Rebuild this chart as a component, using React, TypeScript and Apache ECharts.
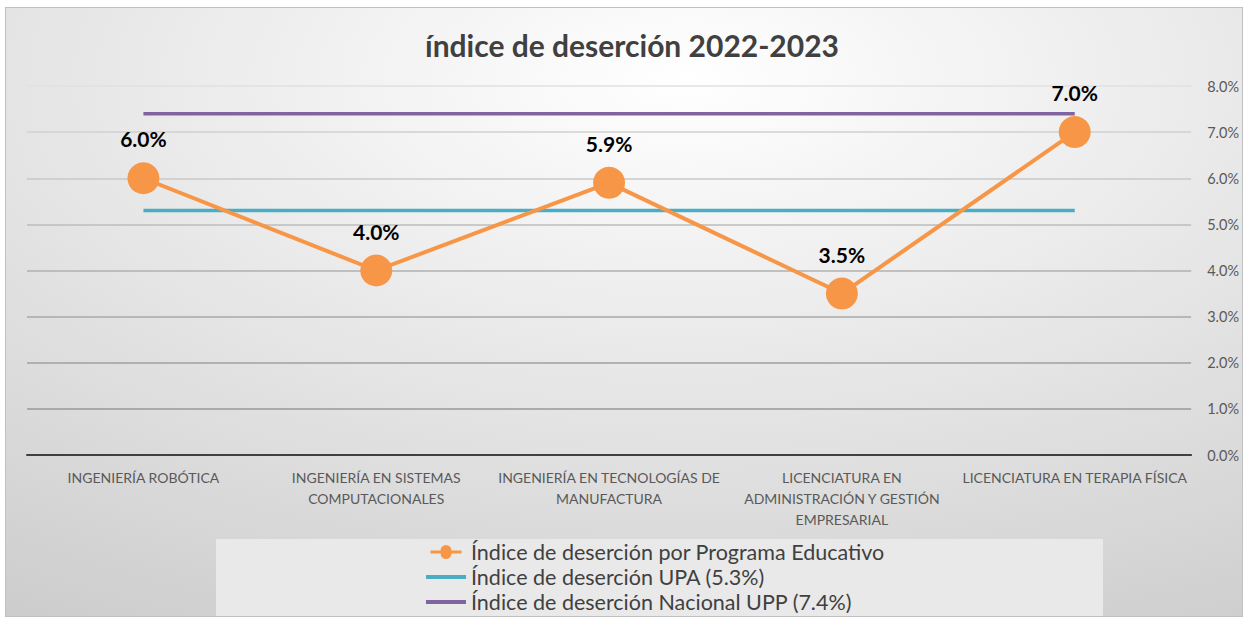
import React, { useEffect, useRef } from "react";
import * as echarts from "echarts";

const categories = [
  "INGENIERÍA ROBÓTICA",
  "INGENIERÍA EN SISTEMAS\nCOMPUTACIONALES",
  "INGENIERÍA EN TECNOLOGÍAS DE\nMANUFACTURA",
  "LICENCIATURA EN\nADMINISTRACIÓN Y GESTIÓN\nEMPRESARIAL",
  "LICENCIATURA EN TERAPIA FÍSICA",
];
const programValues = [6.0, 4.0, 5.9, 3.5, 7.0];
const upaValues = [5.3, 5.3, 5.3, 5.3, 5.3];
const nacionalValues = [7.4, 7.4, 7.4, 7.4, 7.4];
const seriesNames = [
  "Índice de deserción por Programa Educativo",
  "Índice de deserción UPA (5.3%)",
  "Índice de deserción Nacional UPP (7.4%)",
];
const titleText = "índice de deserción 2022-2023";

const FONT = "Lato, 'Open Sans', sans-serif";
const LINE_ICON = "path://M0,5 L40,5 L40,9 L0,9 Z";
const MARKER_ICON =
  "path://M0,5 L13,5 A7,7 0 0,1 27,5 L40,5 L40,9 L27,9 A7,7 0 0,1 13,9 L0,9 Z";

export default function App() {
  const ref = useRef<HTMLDivElement>(null);
  useEffect(() => {
    if (!ref.current) return;
    const chart = echarts.init(ref.current, undefined, { renderer: "svg" });
    chart.setOption({
      animation: false,
      backgroundColor: new echarts.graphic.RadialGradient(0.55, 0.12, 1.25, [
        { offset: 0, color: "#ffffff" },
        { offset: 1, color: "#c2c2c2" },
      ]),
      title: {
        text: titleText,
        left: 621,
        textAlign: "center",
        top: 17,
        textStyle: { fontFamily: FONT, fontSize: 30, fontWeight: "bold", color: "#404040" },
      },
      graphic: [
        {
          type: "rect",
          shape: { x: 210, y: 531, width: 887, height: 78 },
          style: { fill: "#e9e9e9" },
          z: 0,
        },
      ],
      legend: {
        orient: "vertical",
        left: 420,
        top: 533,
        padding: 0,
        itemWidth: 40,
        itemHeight: 14,
        itemGap: 3,
        data: [
          { name: seriesNames[0], icon: MARKER_ICON },
          { name: seriesNames[1], icon: LINE_ICON },
          { name: seriesNames[2], icon: LINE_ICON },
        ],
        textStyle: { fontFamily: FONT, fontSize: 21.5, lineHeight: 22, color: "#404040" },
        z: 5,
      },
      grid: { left: 21, right: 50, top: 78, bottom: 161 },
      xAxis: {
        type: "category",
        data: categories,
        boundaryGap: true,
        axisTick: { show: false },
        axisLine: { lineStyle: { color: "#404040", width: 2 } },
        axisLabel: {
          interval: 0,
          margin: 12,
          color: "#595959",
          fontFamily: FONT,
          fontSize: 14,
          lineHeight: 21,
        },
      },
      yAxis: {
        type: "value",
        position: "right",
        min: 0,
        max: 8,
        interval: 1,
        axisLine: { show: false },
        axisTick: { show: false },
        axisLabel: {
          margin: 16,
          color: "#595959",
          fontFamily: FONT,
          fontSize: 14.5,
          formatter: (v: number) => v.toFixed(1) + "%",
        },
        splitLine: {
          lineStyle: {
            width: 1.5,
            color: ["#888888", "#999999", "#a0a0a0", "#a8a8a8", "#b0b0b0", "#bcbcbc", "#c8c8c8", "#d0d0d0", "#e0e0e0"],
          },
        },
      },
      series: [
        {
          name: seriesNames[1],
          type: "line",
          data: upaValues,
          symbol: "none",
          lineStyle: { color: "#4BACC6", width: 3.5 },
          itemStyle: { color: "#4BACC6" },
          z: 2,
        },
        {
          name: seriesNames[2],
          type: "line",
          data: nacionalValues,
          symbol: "none",
          lineStyle: { color: "#8064A2", width: 3.5 },
          itemStyle: { color: "#8064A2" },
          z: 2,
        },
        {
          name: seriesNames[0],
          type: "line",
          data: programValues,
          symbol: "circle",
          symbolSize: 32,
          lineStyle: { color: "#F79646", width: 4 },
          itemStyle: { color: "#F79646" },
          label: {
            show: true,
            position: "top",
            distance: 13,
            fontFamily: FONT,
            fontSize: 21,
            fontWeight: "bold",
            color: "#000000",
            formatter: (p: any) => Number(p.value).toFixed(1) + "%",
          },
          z: 3,
        },
      ],
    });
    return () => chart.dispose();
  }, []);
  return (
    <div
      ref={ref}
      style={{
        position: "absolute",
        left: 5,
        top: 7,
        width: 1238,
        height: 610,
        boxSizing: "border-box",
        border: "1px solid #c0c0c0",
      }}
    />
  );
}
